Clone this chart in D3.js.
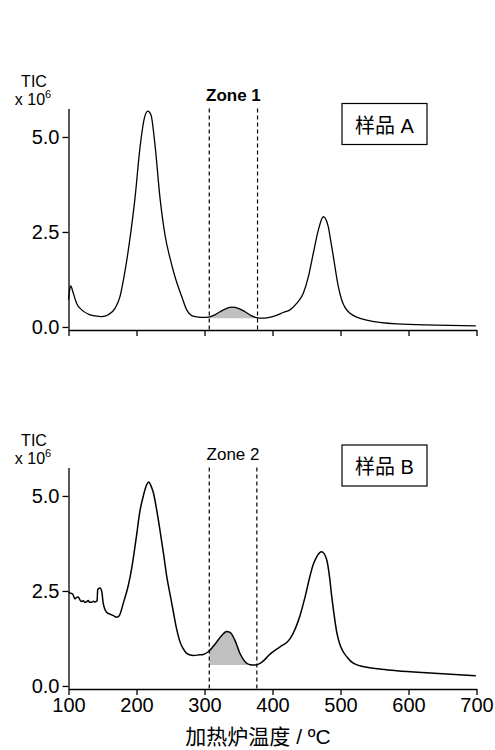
<!DOCTYPE html>
<html lang="zh">
<head>
<meta charset="UTF-8">
<title>TIC 曲线</title>
<script src="https://d3js.org/d3.v7.min.js"></script>
<style>
  body { margin: 0; background: #fff; }
  svg text { font-family: "Liberation Sans", Arial, "Noto Sans CJK SC", sans-serif; fill: #000; }
</style>
</head>
<body>
<script>
// temperature (ºC) and TIC (x 10^6)
const tempA = [100, 101.5, 103.3, 107, 112, 119.4, 129, 139, 148.8, 158.5, 168.4, 175.7, 183, 190.4, 197.8, 205, 211.5, 216.5, 221.3, 227.2, 234.6, 241.9, 249.3, 256.6, 266.5, 273.8, 281.2, 290.9, 296, 305.6, 315.4, 327.7, 340, 349.7, 359.6, 369.4, 376.8, 384, 393.8, 403.7, 415.7, 425.7, 435.5, 445.3, 452.7, 460, 467.4, 474.7, 482, 484.6, 489.5, 496.8, 501.8, 514, 538.5, 582.6, 640, 699];
const ticA  = [0.72, 0.95, 1.08, 0.89, 0.62, 0.45, 0.34, 0.29, 0.27, 0.32, 0.49, 0.8, 1.46, 2.33, 3.39, 4.7, 5.49, 5.68, 5.58, 4.79, 3.39, 2.42, 1.81, 1.32, 0.8, 0.45, 0.3, 0.26, 0.25, 0.26, 0.32, 0.45, 0.52, 0.49, 0.4, 0.29, 0.245, 0.23, 0.245, 0.29, 0.38, 0.45, 0.62, 0.89, 1.32, 1.94, 2.55, 2.9, 2.64, 2.38, 1.85, 1.06, 0.71, 0.36, 0.18, 0.08, 0.05, 0.03];

const tempB = [100, 102, 106, 109.6, 112, 114.4, 117, 119.4, 122, 124, 127, 129, 131, 134, 137, 139, 142, 143, 146.3, 149, 151, 156, 161, 166, 171, 174.7, 180.6, 188, 193, 200, 205, 210, 215, 218, 221, 224.7, 230, 234.6, 240, 244.4, 250, 254.3, 259, 264, 268, 273.8, 283.5, 293, 298, 305.6, 315.4, 325, 332.6, 337.5, 344.8, 352, 359.6, 367, 374.4, 384, 396, 411, 425.7, 440.4, 448, 455, 460, 465, 472.3, 479.7, 484, 487, 490, 494.4, 499, 504, 510, 518.8, 538.5, 560, 582.6, 631.6, 699];
const ticB  = [2.47, 2.45, 2.42, 2.29, 2.33, 2.34, 2.26, 2.22, 2.24, 2.2, 2.22, 2.25, 2.2, 2.2, 2.23, 2.21, 2.24, 2.54, 2.58, 2.48, 2.18, 1.94, 1.89, 1.85, 1.81, 1.85, 2.18, 2.65, 3.1, 3.95, 4.6, 5.0, 5.3, 5.37, 5.28, 5.09, 4.6, 4.09, 3.45, 2.89, 2.35, 1.94, 1.5, 1.16, 1.0, 0.86, 0.8, 0.82, 0.83, 0.9, 1.1, 1.32, 1.43, 1.41, 1.2, 0.86, 0.64, 0.56, 0.55, 0.62, 0.83, 1.03, 1.24, 1.85, 2.35, 2.88, 3.2, 3.4, 3.53, 3.32, 2.85, 2.37, 1.95, 1.42, 1.1, 0.9, 0.75, 0.6, 0.49, 0.44, 0.4, 0.34, 0.27];

const zoneA = [307, 378];
const zoneB = [307, 377];
const zoneBaseA = 0.23;
const zoneBaseB = 0.55;
const zoneLabels = ["Zone 1", "Zone 2"];
const sampleLabels = ["样品 A", "样品 B"];
const xTicks = [100, 200, 300, 400, 500, 600, 700];
const yTicks = [0, 2.5, 5.0];
const xTitle = "加热炉温度 / ºC";

const width = 495, height = 750;
const yMin = -0.08, yMax = 5.75, pxPerUnit = 38;

const svg = d3.select("body").append("svg")
    .attr("width", width).attr("height", height);

const x = d3.scaleLinear().domain([100, 700]).range([68.5, 476.5]);

const panels = [
  {id: "a", temp: tempA, tic: ticA, zone: zoneA, base: zoneBaseA, bottom: 330, zoneLabel: zoneLabels[0], bold: true,
   sample: sampleLabels[0], boxTop: 103.5, lw: 1.3, showX: false},
  {id: "b", temp: tempB, tic: ticB, zone: zoneB, base: zoneBaseB, bottom: 689, zoneLabel: zoneLabels[1], bold: false,
   sample: sampleLabels[1], boxTop: 445, lw: 1.5, showX: true}
];

panels.forEach(p => {
  const y = d3.scaleLinear().domain([yMin, yMax])
      .range([p.bottom, p.bottom - (yMax - yMin) * pxPerUnit]);
  const pts = p.temp.map((t, i) => [t, p.tic[i]]);
  const g = svg.append("g");

  // shaded zone
  g.append("clipPath").attr("id", "clip-" + p.id)
    .append("rect")
      .attr("x", x(p.zone[0])).attr("width", x(p.zone[1]) - x(p.zone[0]))
      .attr("y", y(yMax)).attr("height", p.bottom - y(yMax));

  g.append("path").datum(pts)
      .attr("clip-path", "url(#clip-" + p.id + ")")
      .attr("fill", "#c0c0c0")
      .attr("d", d3.area()
          .x(d => x(d[0])).y0(y(p.base)).y1(d => y(d[1]))
          .curve(d3.curveMonotoneX));

  // zone boundaries
  g.selectAll("line.zone").data(p.zone).enter()
    .append("line")
      .attr("x1", d => x(d)).attr("x2", d => x(d))
      .attr("y1", y(yMax)).attr("y2", p.bottom)
      .attr("stroke", "#000").attr("stroke-width", 1.2)
      .attr("stroke-dasharray", "4,3");

  g.append("text")
      .attr("x", (x(p.zone[0]) + x(p.zone[1])) / 2)
      .attr("y", p.bottom - 229)
      .attr("text-anchor", "middle")
      .style("font-size", "17px")
      .style("font-weight", p.bold ? "bold" : "normal")
      .text(p.zoneLabel);

  // curve
  g.append("path").datum(pts)
      .attr("fill", "none").attr("stroke", "#000")
      .attr("stroke-width", p.lw).attr("stroke-linejoin", "round")
      .attr("d", d3.line().x(d => x(d[0])).y(d => y(d[1])).curve(d3.curveMonotoneX));

  // axes
  const yAxis = g.append("g")
      .attr("transform", "translate(" + x(100) + ",0)")
      .call(d3.axisLeft(y).tickValues(yTicks).tickFormat(d3.format(".1f")).tickSize(6).tickSizeOuter(0));
  const xAxis = g.append("g")
      .attr("transform", "translate(0," + p.bottom + ")")
      .call(d3.axisBottom(x).tickValues(xTicks).tickSize(6).tickSizeOuter(0)
          .tickFormat(p.showX ? d3.format("d") : ""));
  [yAxis, xAxis].forEach(a => {
    a.selectAll("path, line").attr("stroke", "#000").attr("stroke-width", 1.3);
    a.selectAll("text").style("font-size", "20px").attr("font-family", null);
  });

  // y-axis unit
  g.append("text").attr("x", 34).attr("y", p.bottom - 243)
      .attr("text-anchor", "middle").style("font-size", "16px").text("TIC");
  const unit = g.append("text").attr("x", 33).attr("y", p.bottom - 225)
      .attr("text-anchor", "middle").style("font-size", "16px");
  unit.append("tspan").text("x 10");
  unit.append("tspan").attr("dy", -7).style("font-size", "11px").text("6");

  // sample label box
  g.append("rect").attr("x", 342).attr("y", p.boxTop)
      .attr("width", 85).attr("height", 41)
      .attr("fill", "none").attr("stroke", "#000").attr("stroke-width", 1.2);
  g.append("text").attr("x", 384.5).attr("y", p.boxTop + 29)
      .attr("text-anchor", "middle").style("font-size", "20px").text(p.sample);
});

svg.append("text").attr("x", 258).attr("y", 744)
    .attr("text-anchor", "middle").style("font-size", "21px").text(xTitle);
</script>
</body>
</html>
